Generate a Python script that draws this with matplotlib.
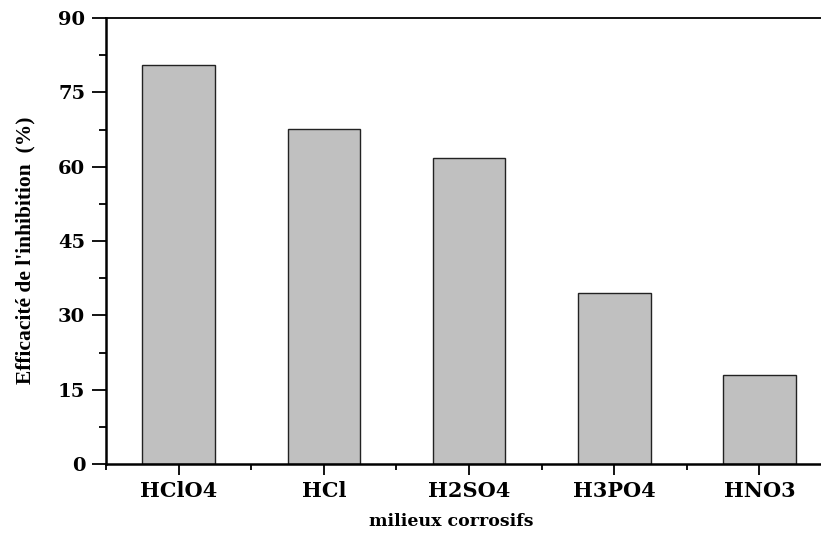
import matplotlib.pyplot as plt
from matplotlib.ticker import MultipleLocator, FixedLocator

categories = ["HClO4", "HCl", "H2SO4", "H3PO4", "HNO3"]
efficacite = [80.5, 67.7, 61.7, 34.6, 18.0]
y_ticks = [0, 15, 30, 45, 60, 75, 90]

W, H = 821, 533
fig = plt.figure(figsize=(W / 100, H / 100), dpi=100)
left, right, bottom, top = 106, 832, 464, 18
ax = fig.add_axes([left / W, 1 - bottom / H, (right - left) / W, (bottom - top) / H])

x = list(range(len(categories)))
ax.bar(x, efficacite, width=0.5, color="#c0c0c0", edgecolor="#222222", linewidth=1.0, zorder=2)

ax.set_xlim(-0.5, len(categories) - 0.5)
ax.set_ylim(0, 90)
ax.set_yticks(y_ticks)
ax.yaxis.set_minor_locator(MultipleLocator(7.5))
ax.set_xticks(x)
ax.set_xticklabels(categories)
ax.xaxis.set_minor_locator(FixedLocator([i + 0.5 for i in range(-1, len(categories))]))

tick_font = "DejaVu Serif"
for lab in ax.get_yticklabels():
    lab.set_fontfamily(tick_font)
    lab.set_fontweight("bold")
    lab.set_fontsize(14)
for lab in ax.get_xticklabels():
    lab.set_fontfamily(tick_font)
    lab.set_fontweight("bold")
    lab.set_fontsize(15)

ax.tick_params(axis="both", which="major", direction="out", width=1.3, colors="black")
ax.tick_params(axis="y", which="major", length=10, pad=5)
ax.tick_params(axis="y", which="minor", length=5, width=1.3)
ax.tick_params(axis="x", which="major", length=8, pad=4)
ax.tick_params(axis="x", which="minor", length=4, width=1.3)

for side in ("left", "bottom"):
    ax.spines[side].set_linewidth(1.8)
ax.spines["top"].set_linewidth(1.3)
ax.spines["right"].set_visible(False)

ax.set_xlabel("milieux corrosifs", fontfamily=tick_font, fontweight="bold", fontsize=12.5)
ax.xaxis.set_label_coords((451 - left) / (right - left), (bottom - 521) / (bottom - top),
                          transform=ax.transAxes)
ax.xaxis.label.set_verticalalignment("center")

ax.set_ylabel("Efficacité de l'inhibition  (%)", fontfamily="Liberation Serif",
              fontweight="bold", fontsize=15.5)
ax.yaxis.set_label_coords((25 - left) / (right - left), (bottom - 250) / (bottom - top),
                          transform=ax.transAxes)
ax.yaxis.label.set_verticalalignment("center")

fig.savefig("out.png", dpi=100)
